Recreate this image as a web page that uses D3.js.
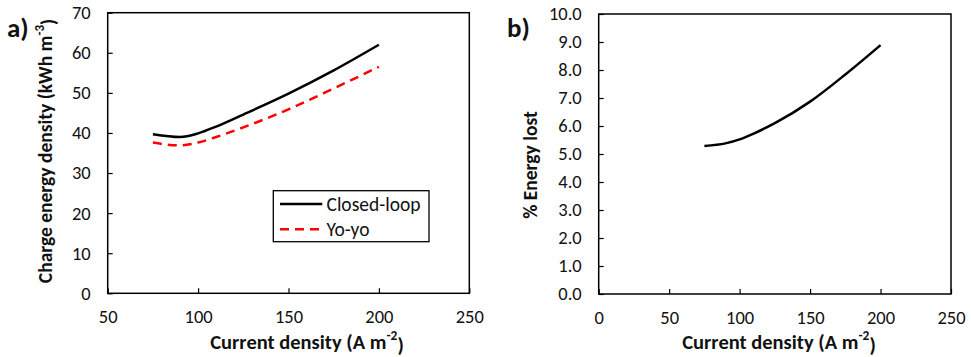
<!DOCTYPE html>
<html>
<head>
<meta charset="utf-8">
<script src="https://cdn.jsdelivr.net/npm/d3@7"></script>
<style>
  html, body { margin: 0; padding: 0; background: #fff; }
  svg { display: block; }
  text { font-family: Carlito, Calibri, "Open Sans", sans-serif; fill: #111; }
</style>
</head>
<body>
<svg id="chart" width="971" height="357"></svg>
<script>
// Current density (A m^-2) at which each run was made
const currentDensity = [75, 90, 100, 110, 125, 150, 175, 200];
// Charge energy density (kWh m^-3)
const closedLoop = [39.7, 39.0, 39.9, 41.6, 44.6, 49.8, 55.6, 62.0];
const yoYo       = [37.6, 36.9, 37.6, 39.0, 41.4, 45.9, 51.1, 56.5];
// Share of charge energy lost by the yo-yo mode (%)
const energyLost = [5.29, 5.38, 5.52, 5.73, 6.10, 6.87, 7.84, 8.89];

const xTicksA = [50, 100, 150, 200, 250];
const yTicksA = [0, 10, 20, 30, 40, 50, 60, 70];
const xTicksB = [0, 50, 100, 150, 200, 250];
const yTicksB = [0, 1, 2, 3, 4, 5, 6, 7, 8, 9, 10];

const svg = d3.select("#chart");

function panel(cfg) {
  const x = d3.scaleLinear().domain(cfg.xDomain).range([cfg.left, cfg.right]);
  const y = d3.scaleLinear().domain(cfg.yDomain).range([cfg.bottom, cfg.top]);
  const g = svg.append("g");

  // frame around the plot area
  g.append("rect")
    .attr("x", cfg.left).attr("y", cfg.top)
    .attr("width", cfg.right - cfg.left).attr("height", cfg.bottom - cfg.top)
    .attr("fill", "none").attr("stroke", "#000").attr("stroke-width", 1.5);

  // axes with inward ticks
  const xAxis = g.append("g").attr("transform", `translate(0,${cfg.bottom})`)
    .call(d3.axisBottom(x).tickValues(cfg.xTicks).tickSize(-5).tickSizeOuter(0));
  const yAxis = g.append("g").attr("transform", `translate(${cfg.left},0)`)
    .call(d3.axisLeft(y).tickValues(cfg.yTicks).tickSize(-5).tickPadding(17).tickSizeOuter(0).tickFormat(cfg.yFormat));
  [xAxis, yAxis].forEach(a => {
    a.select(".domain").remove();
    a.selectAll(".tick line").attr("stroke", "#000").attr("stroke-width", 1.2);
    a.selectAll(".tick text").style("font-size", "18.5px").attr("fill", "#222");
  });
  xAxis.selectAll(".tick text").attr("dy", "0.35em").attr("y", 23.5);

  // axis titles
  const xt = g.append("text")
    .attr("x", cfg.xTitleX).attr("y", 341.5)
    .attr("text-anchor", "middle").attr("dominant-baseline", "central")
    .style("font-size", "20.5px").style("font-weight", "bold");
  xt.append("tspan").text("Current density (A m");
  xt.append("tspan").text("-2").attr("dy", "-0.45em").style("font-size", "13.5px");
  xt.append("tspan").text(")").attr("dy", "0.45em");

  const yt = g.append("text")
    .attr("transform", `translate(${cfg.yTitleX},${cfg.yTitleY}) rotate(-90)`)
    .attr("text-anchor", "middle").attr("dominant-baseline", "central")
    .style("font-size", "19.5px").style("font-weight", "bold");
  cfg.yTitle(yt);

  // panel letter
  g.append("text").attr("x", cfg.letterX).attr("y", 27)
    .attr("dominant-baseline", "central")
    .style("font-size", "27px").style("font-weight", "bold").text(cfg.letter);

  return { g, x, y };
}

const A = panel({
  left: 107.7, right: 469.3, top: 12.7, bottom: 293.3,
  xDomain: [50, 250], yDomain: [0, 70], xTicks: xTicksA, yTicks: yTicksA,
  yFormat: d3.format("d"),
  xTitleX: 307, yTitleX: 45, yTitleY: 151,
  yTitle: t => {
    t.append("tspan").text("Charge energy density (kWh m");
    t.append("tspan").text("-3").attr("dy", "-0.45em").style("font-size", "13px");
    t.append("tspan").text(")").attr("dy", "0.45em");
  },
  letter: "a)", letterX: 7
});

const B = panel({
  left: 598.7, right: 951, top: 14, bottom: 294,
  xDomain: [0, 250], yDomain: [0, 10], xTicks: xTicksB, yTicks: yTicksB,
  yFormat: d3.format(".1f"),
  xTitleX: 779, yTitleX: 530, yTitleY: 165,
  yTitle: t => t.text("% Energy lost"),
  letter: "b)", letterX: 507
});

function drawLine(p, values, style) {
  const pts = currentDensity.map((c, i) => [c, values[i]]);
  const line = d3.line().x(d => p.x(d[0])).y(d => p.y(d[1])).curve(d3.curveMonotoneX);
  p.g.append("path").datum(pts)
    .attr("d", line)
    .attr("fill", "none")
    .attr("stroke", style.color)
    .attr("stroke-width", 2.5)
    .attr("stroke-dasharray", style.dash || null);
}

drawLine(A, closedLoop, { color: "#000" });
drawLine(A, yoYo, { color: "#ff0000", dash: "9,6" });
drawLine(B, energyLost, { color: "#000" });

// legend for panel a
const legend = A.g.append("g");
legend.append("rect")
  .attr("x", 273.3).attr("y", 190.7).attr("width", 155.7).attr("height", 51)
  .attr("fill", "#fff").attr("stroke", "#000").attr("stroke-width", 1.3);
const entries = [
  { label: "Closed-loop", color: "#000", dash: null, y: 204 },
  { label: "Yo-yo", color: "#ff0000", dash: "9,6", y: 229.3 }
];
entries.forEach(e => {
  legend.append("line")
    .attr("x1", 280).attr("x2", 322.3).attr("y1", e.y).attr("y2", e.y)
    .attr("stroke", e.color).attr("stroke-width", 2.5).attr("stroke-dasharray", e.dash);
  legend.append("text")
    .attr("x", 326.5).attr("y", e.y).attr("dominant-baseline", "central")
    .style("font-size", "19.5px").text(e.label);
});
</script>
</body>
</html>
